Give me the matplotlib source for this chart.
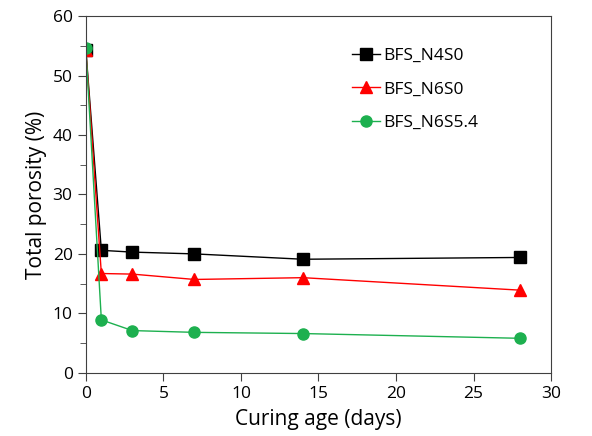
import matplotlib.pyplot as plt
from matplotlib.ticker import MultipleLocator

plt.rcParams['font.family'] = ['Open Sans', 'DejaVu Sans']

days = [0, 1, 3, 7, 14, 28]
n4s0 = [54.3, 20.6, 20.3, 20.0, 19.1, 19.4]
n6s0 = [54.3, 16.7, 16.6, 15.7, 16.0, 13.9]
n6s54 = [54.6, 8.9, 7.1, 6.8, 6.6, 5.8]

fig = plt.figure(figsize=(5.92, 4.36), dpi=100)
ax = fig.add_axes([0.145, 0.145, 0.786, 0.818])

ax.plot(days, n4s0, color='black', linewidth=1, marker='s', markersize=8, label='BFS_N4S0')
ax.plot(days, n6s0, color='red', linewidth=1, marker='^', markersize=8, label='BFS_N6S0')
ax.plot(days, n6s54, color='#1db04f', linewidth=1, marker='o', markersize=8, label='BFS_N6S5.4')

ax.set_xlim(0, 30)
ax.set_ylim(0, 60)
ax.xaxis.set_major_locator(MultipleLocator(5))
ax.yaxis.set_major_locator(MultipleLocator(10))
ax.yaxis.set_minor_locator(MultipleLocator(5))
ax.tick_params(which='both', direction='out', labelsize=12.5, color='#404040')
ax.tick_params(which='major', length=6)
ax.tick_params(which='minor', length=4)
for s in ax.spines.values():
    s.set_color('#404040')

ax.set_xlabel("Curing age (days)", fontsize=15, labelpad=5)
ax.set_ylabel("Total porosity (%)", fontsize=15, labelpad=4)

ax.legend(loc='upper left', bbox_to_anchor=(0.538, 0.955), frameon=False, fontsize=12.5,
          handlelength=1.6, labelspacing=1.0, handletextpad=0.2)

fig.savefig("out.png", dpi=100)
